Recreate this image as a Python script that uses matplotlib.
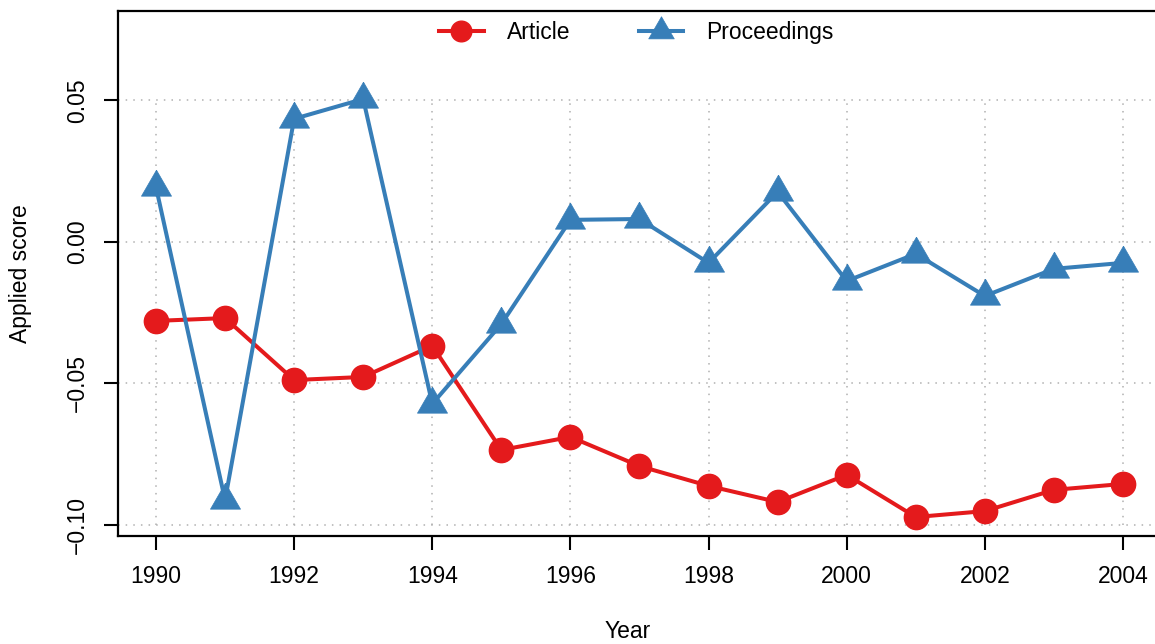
import matplotlib
matplotlib.use("Agg")
from matplotlib import pyplot as plt

years = list(range(1990, 2005))
article = [-0.0279, -0.0269, -0.0488, -0.0477, -0.0367, -0.0735, -0.0689, -0.0792,
           -0.0862, -0.0919, -0.0823, -0.0972, -0.0951, -0.0876, -0.0855]
proceedings = [0.0194, -0.0912, 0.0435, 0.0505, -0.0572, -0.0290, 0.0078, 0.0081,
               -0.0074, 0.0177, -0.0138, -0.0042, -0.0191, -0.0095, -0.0074]
xticks = list(range(1990, 2005, 2))
yticks = [-0.10, -0.05, 0.00, 0.05]
ytick_labels = ["\u22120.10", "\u22120.05", "0.00", "0.05"]

red = "#E41A1C"
blue = "#377EB8"

plt.rcParams['font.family'] = ['Liberation Sans', 'DejaVu Sans']
plt.rcParams['font.size'] = 16.5

fig = plt.figure(figsize=(11.55, 6.44), dpi=100)
W, H = 1155, 644
left, right, top, bottom = 118, 1161, 11, 536
ax = fig.add_axes([left / W, 1 - bottom / H, (right - left) / W, (bottom - top) / H])

# dotted grid: horizontal lines span the box, vertical ones only the tick range
grid_kw = dict(color="#b0b0b0", lw=1.1, ls=(0, (1, 4)), zorder=0)
for yv in yticks:
    ax.axhline(yv, **grid_kw)
ax.vlines(xticks, min(yticks), max(yticks), **grid_kw)

# equilateral triangle centred on its centroid (like R's pch 17)
tri = [(0, 1), (-0.866, -0.5), (0.866, -0.5), (0, 1)]

ax.plot(years, article, color=red, lw=2.9, marker="o", markersize=17.5,
        label="Article", zorder=3)
ax.plot(years, proceedings, color=blue, lw=2.9, marker=tri, markersize=25,
        markeredgewidth=0.5, label="Proceedings", zorder=3)

ax.set_xlim(1989.45, 2004.55)
ax.set_ylim(-0.1039, 0.0816)
ax.set_xticks(xticks)
ax.set_yticks(yticks)
ax.set_yticklabels(ytick_labels, rotation=90, va="center")
ax.tick_params(axis="both", direction="out", length=10, width=1.5, labelsize=16.5)
ax.tick_params(axis="x", pad=11)
ax.tick_params(axis="y", pad=11)

for s in ["top", "left", "bottom"]:
    ax.spines[s].set_linewidth(1.6)
ax.spines["right"].set_visible(False)

ax.set_xlabel("Year")
ax.xaxis.set_label_coords((628 - left) / (right - left), -(632 - bottom) / (bottom - top))
ax.set_ylabel("Applied score")
ax.yaxis.set_label_coords(-(left - 21) / (right - left), 0.5)
ax.xaxis.label.set_va("center")
ax.yaxis.label.set_va("center")

ax.legend(loc="upper center", bbox_to_anchor=(0.497, 1.0), ncol=2, frameon=False,
          handlelength=1.95, columnspacing=3.0, markerscale=0.85,
          handletextpad=1.0, borderaxespad=0.05)

fig.savefig("out.png", dpi=100)
